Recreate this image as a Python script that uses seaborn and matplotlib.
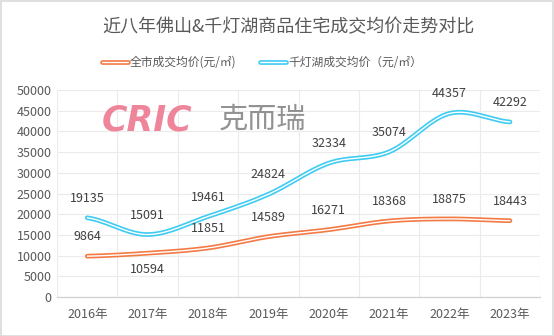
import numpy as np
import pandas as pd
import matplotlib
matplotlib.use("Agg")
import matplotlib.pyplot as plt
import matplotlib.patheffects as pe
from matplotlib.lines import Line2D
from matplotlib.patches import Rectangle
import seaborn as sns

years = ["2016年", "2017年", "2018年", "2019年", "2020年", "2021年", "2022年", "2023年"]
city_price = [9864, 10594, 11851, 14589, 16271, 18368, 18875, 18443]
qdh_price = [19135, 15091, 19461, 24824, 32334, 35074, 44357, 42292]
city_name = "全市成交均价(元/㎡)"
qdh_name = "千灯湖成交均价（元/㎡）"
title = "近八年佛山&千灯湖商品住宅成交均价走势对比"

sns.set_theme(style="white")
plt.rcParams['font.family'] = ['Noto Sans CJK SC', 'DejaVu Sans']

fig = plt.figure(figsize=(5.54, 3.36), dpi=100)
ax = fig.add_axes([0.103, 0.116, 0.872, 0.616])

def smooth(xs, ys, n=30, t=0.5):
    xs = np.asarray(xs, float); ys = np.asarray(ys, float)
    px = np.concatenate([[2*xs[0]-xs[1]], xs, [2*xs[-1]-xs[-2]]])
    py = np.concatenate([[ys[0]], ys, [ys[-1]]])
    ox, oy = [], []
    for i in range(1, len(px)-2):
        s = np.linspace(0, 1, n, endpoint=False)
        p0, p1, p2, p3 = py[i-1], py[i], py[i+1], py[i+2]
        m1 = t*(p2-p0); m2 = t*(p3-p1)
        h00 = 2*s**3-3*s**2+1; h10 = s**3-2*s**2+s; h01 = -2*s**3+3*s**2; h11 = s**3-s**2
        oy.append(h00*p1+h10*m1+h01*p2+h11*m2)
        ox.append(px[i] + s*(px[i+1]-px[i]))
    ox.append([xs[-1]]); oy.append([ys[-1]])
    return np.concatenate(ox), np.concatenate(oy)

x = np.arange(len(years))
series = [(city_name, city_price, "#F47A45"), (qdh_name, qdh_price, "#3FCBF2")]
handles = []
for name, vals, col in series:
    sx, sy = smooth(x, vals)
    df = pd.DataFrame({"x": sx, "y": sy})
    sns.lineplot(data=df, x="x", y="y", sort=False, ax=ax, color="white", lw=1.0,
                 path_effects=[pe.Stroke(linewidth=3.4, foreground=col), pe.Normal()], zorder=3)
    handles.append(Line2D([0], [0], color="white", lw=1.0,
                          path_effects=[pe.Stroke(linewidth=3.4, foreground=col), pe.Normal()], label=name))

# data labels
for i, v in enumerate(qdh_price):
    ax.annotate(f"{v}", (i, v), xytext=(0, 14), textcoords="offset points", ha="center",
                va="center", fontsize=9, color="#404040")
for i, v in enumerate(city_price):
    off = -12 if i == 1 else 14
    ax.annotate(f"{v}", (i, v), xytext=(0, off), textcoords="offset points", ha="center",
                va="center", fontsize=9, color="#404040")

ax.set_xlim(-0.5, len(years)-0.5)
ax.set_ylim(0, 50000)
ax.set_yticks(np.arange(0, 50001, 5000))
ax.set_xticks(x)
ax.set_xticklabels(years)
ax.set_xticks(np.arange(-0.5, len(years), 1), minor=True)
ax.grid(False)
ax.grid(True, axis="y", color="#EBEBEB", lw=0.8)
ax.grid(True, axis="x", which="minor", color="#EBEBEB", lw=0.8)
ax.tick_params(axis="both", which="both", length=0, labelsize=9, labelcolor="#595959")
ax.tick_params(axis="x", pad=8)
ax.tick_params(axis="y", pad=4)
ax.set_xlabel(""); ax.set_ylabel("")
for s in ["top", "right", "left"]:
    ax.spines[s].set_visible(False)
ax.spines["bottom"].set_color("#D0D0D0")
ax.spines["bottom"].set_linewidth(0.9)

# watermark
ax.text(0.093, 0.855, "CRIC", transform=ax.transAxes, fontsize=25, fontweight="heavy",
        fontstyle="italic", color="#EE7F95", va="center", ha="left", family=["DejaVu Sans"], alpha=0.95)
ax.text(0.335, 0.855, "克而瑞", transform=ax.transAxes, fontsize=21, color="#8C8C8C",
        va="center", ha="left", alpha=0.95)

fig.text(0.52, 0.92, title, ha="center", va="center", fontsize=13, color="#595959")
fig.legend(handles=handles, loc="center", bbox_to_anchor=(0.473, 0.815), ncol=2, frameon=False,
           fontsize=8.5, handlelength=2.2, columnspacing=2.0, handletextpad=0.2,
           labelcolor="#595959")

fig.patches.append(Rectangle((0.001, 0.001), 0.997, 0.996, transform=fig.transFigure,
                             fill=False, edgecolor="#D9D9D9", lw=1.2))
fig.savefig("out.png", dpi=100, facecolor="white")
